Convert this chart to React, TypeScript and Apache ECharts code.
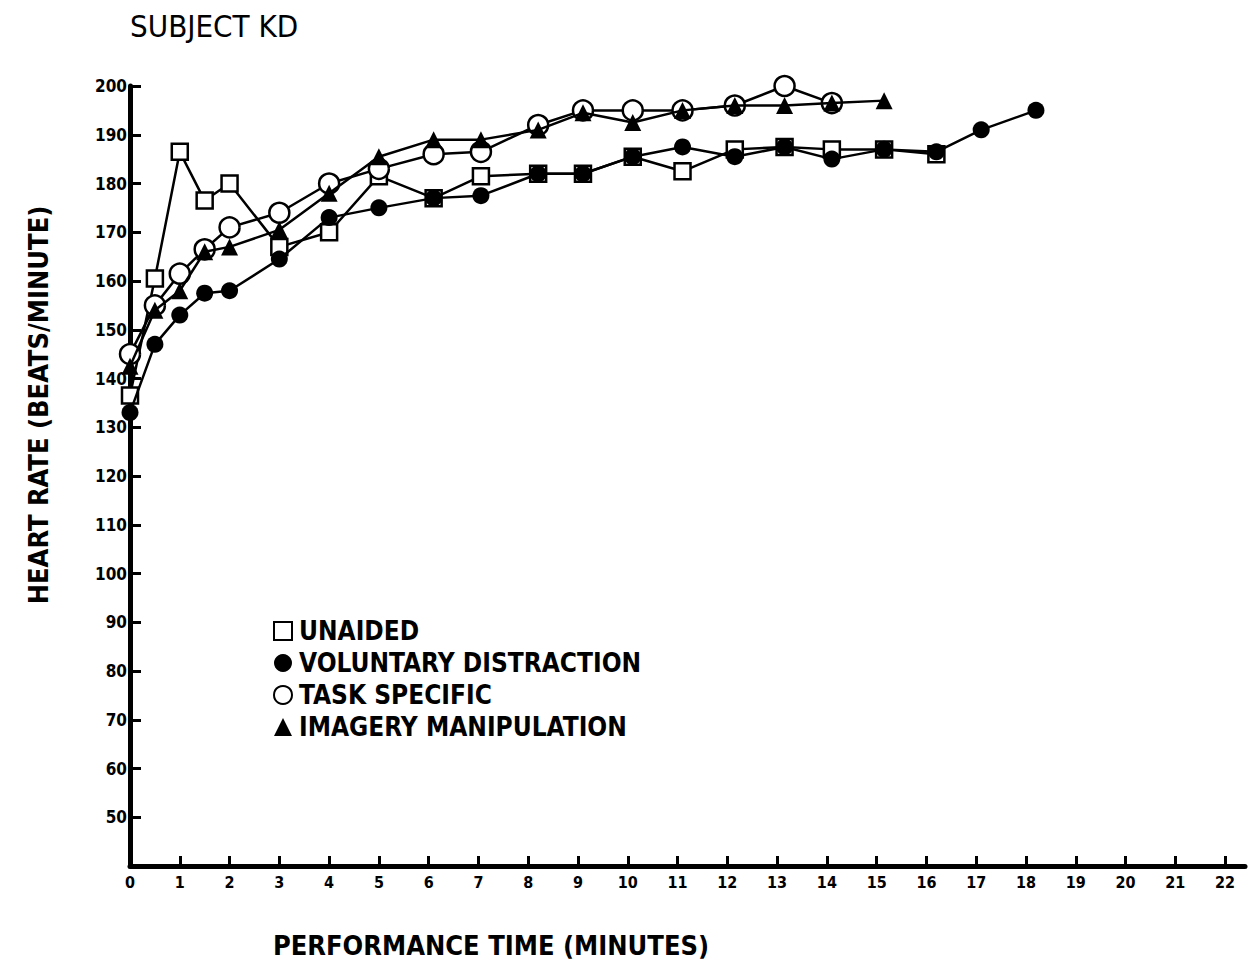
import React, { useEffect, useRef } from "react";
import * as echarts from "echarts";

// Performance time (minutes) at which heart rate was sampled
const minutes = [0, 0.5, 1, 1.5, 2, 3, 4, 5, 6.1, 7.05, 8.2, 9.1, 10.1, 11.1, 12.15, 13.15, 14.1, 15.15, 16.2, 17.1, 18.2];

// Heart rate (beats/minute) per condition, aligned with `minutes`
const unaided = [136.5, 160.5, 186.5, 176.5, 180, 167, 170, 181.5, 177, 181.5, 182, 182, 185.5, 182.5, 187, 187.5, 187, 187, 186, null, null];
const voluntaryDistraction = [133, 147, 153, 157.5, 158, 164.5, 173, 175, 177, 177.5, 182, 182, 185.5, 187.5, 185.5, 187.5, 185, 187, 186.5, 191, 195];
const taskSpecific = [145, 155, 161.5, 166.5, 171, 174, 180, 183, 186, 186.5, 192, 195, 195, 195, 196, 200, 196.5, null, null, null, null];
const imageryManipulation = [142.5, 154, 158, 166, 167, 170.5, 178, 185.5, 189, 189, 191, 194.5, 192.5, 195, 196, 196, 196.5, 197, null, null, null];

const yTicks = [50, 60, 70, 80, 90, 100, 110, 120, 130, 140, 150, 160, 170, 180, 190, 200];
const xTicks = [0, 1, 2, 3, 4, 5, 6, 7, 8, 9, 10, 11, 12, 13, 14, 15, 16, 17, 18, 19, 20, 21, 22];

const legendNames = ["UNAIDED", "VOLUNTARY DISTRACTION", "TASK SPECIFIC", "IMAGERY MANIPULATION"];

const FONT = "'DejaVu Sans Condensed', 'DejaVu Sans', sans-serif";

const pairs = (vals: (number | null)[]) =>
  vals.map((v, i) => (v === null ? null : [minutes[i], v])).filter((p) => p !== null);

export default function App() {
  const ref = useRef<HTMLDivElement>(null);

  useEffect(() => {
    if (!ref.current) return;
    const chart = echarts.init(ref.current, null, { renderer: "svg" });

    const line = { color: "#000", width: 2.5 };
    const open = { color: "#fff", borderColor: "#000", borderWidth: 2.5 };
    const solid = { color: "#000", borderColor: "#000", borderWidth: 0 };

    chart.setOption({
      animation: false,
      backgroundColor: "#fff",
      grid: { left: 130, right: 5, top: 86, bottom: 106, containLabel: false },
      xAxis: {
        type: "value",
        min: 0,
        max: 22.4,
        interval: 1,
        axisLine: { show: true, onZero: false, lineStyle: { color: "#000", width: 5 } },
        axisTick: { show: true, inside: true, length: 10, lineStyle: { color: "#000", width: 3 }, customValues: xTicks },
        axisLabel: {
          customValues: xTicks,
          color: "#000",
          fontFamily: FONT,
          fontWeight: "bold",
          fontSize: 16,
          margin: 8,
        },
        splitLine: { show: false },
      },
      yAxis: {
        type: "value",
        min: 40,
        max: 200,
        interval: 10,
        axisLine: { show: true, onZero: false, lineStyle: { color: "#000", width: 5 } },
        axisTick: { show: true, inside: true, length: 11, lineStyle: { color: "#000", width: 3 }, customValues: yTicks },
        axisLabel: {
          customValues: yTicks,
          color: "#000",
          fontFamily: FONT,
          fontWeight: "bold",
          fontSize: 17,
          margin: 3,
        },
        splitLine: { show: false },
      },
      legend: {
        orient: "vertical",
        left: 268,
        top: 613,
        itemWidth: 18,
        itemHeight: 18,
        itemGap: 6,
        selectedMode: false,
        textStyle: { color: "#000", fontFamily: FONT, fontWeight: "bold", fontSize: 26, padding: [0, 0, 0, 2] },
        data: [
          { name: legendNames[0], icon: "rect" },
          { name: legendNames[1], icon: "circle" },
          { name: legendNames[2], icon: "circle" },
          { name: legendNames[3], icon: "triangle" },
        ],
      },
      graphic: [
        {
          type: "text",
          left: 130,
          top: 10,
          style: { text: "SUBJECT KD", fill: "#000", font: `31px ${FONT}` },
        },
        {
          type: "text",
          x: 38,
          y: 405,
          rotation: Math.PI / 2,
          style: {
            text: "HEART RATE (BEATS/MINUTE)",
            fill: "#000",
            font: `bold 27px ${FONT}`,
            textAlign: "center",
            textVerticalAlign: "middle",
          },
        },
        {
          type: "text",
          x: 491,
          y: 945,
          style: {
            text: "PERFORMANCE TIME (MINUTES)",
            fill: "#000",
            font: `bold 27px ${FONT}`,
            textAlign: "center",
            textVerticalAlign: "middle",
          },
        },
      ],
      series: [
        {
          name: legendNames[0],
          type: "line",
          data: pairs(unaided),
          symbol: "rect",
          symbolSize: 16,
          lineStyle: line,
          itemStyle: open,
          z: 2,
        },
        {
          name: legendNames[2],
          type: "line",
          data: pairs(taskSpecific),
          symbol: "circle",
          symbolSize: 20,
          lineStyle: line,
          itemStyle: open,
          z: 3,
        },
        {
          name: legendNames[1],
          type: "line",
          data: pairs(voluntaryDistraction),
          symbol: "circle",
          symbolSize: 17,
          lineStyle: line,
          itemStyle: solid,
          z: 4,
        },
        {
          name: legendNames[3],
          type: "line",
          data: pairs(imageryManipulation),
          symbol: "triangle",
          symbolSize: 17,
          lineStyle: line,
          itemStyle: solid,
          z: 5,
        },
      ],
    });

    return () => chart.dispose();
  }, []);

  return (
    <div
      ref={ref}
      style={{ position: "fixed", left: 0, top: 0, width: 1250, height: 972, background: "#fff" }}
    />
  );
}
